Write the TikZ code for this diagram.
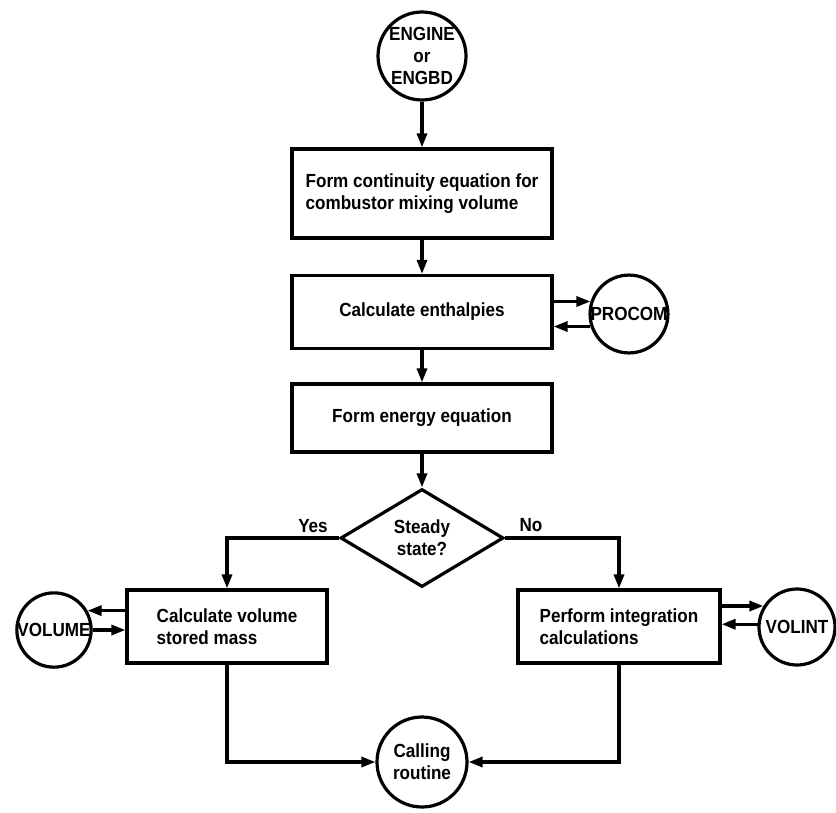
\documentclass[tikz,border=0pt]{standalone}
\usepackage{fontspec}
\setmainfont{Liberation Sans}[FakeStretch=0.9]
\usetikzlibrary{shapes.geometric,arrows.meta}
\begin{document}
\begin{tikzpicture}[x=1pt,y=-1pt,
  font=\fontsize{19}{22}\selectfont\bfseries,
  line width=3.2pt,
  box/.style={draw,rectangle,inner sep=0pt},
  sub/.style={draw,circle,inner sep=0pt,align=center},
  flow/.style={-{Triangle[length=14pt,width=10pt]}},
]
\useasboundingbox (0,0) rectangle (836,812);

% main column
\node[sub,minimum size=88pt] (eng) at (422,56) {ENGINE\\or\\ENGBD};
\node[box,minimum width=260pt,minimum height=89pt,align=left] (b1) at (422,193.5)
  {Form continuity equation for\\combustor mixing volume};
\node[box,minimum width=260pt,minimum height=73pt] (b2) at (422,312) {Calculate enthalpies};
\node[sub,minimum size=76pt] (pro) at (629,314) {PROCOM};
\node[box,minimum width=260pt,minimum height=68pt] (b3) at (422,418) {Form energy equation};
\node[draw,diamond,shape aspect=1.66,minimum width=163pt,minimum height=98pt,
  inner sep=0pt,align=center] (dec) at (422,538) {Steady\\state?};

% branches
\node[box,minimum width=200pt,minimum height=73pt,align=left] (lb) at (227,626.5)
  {Calculate volume\\stored mass};
\node[box,minimum width=202pt,minimum height=73pt,align=left] (rb) at (619,626.5)
  {Perform integration\\calculations};
\node[sub,minimum size=74pt] (vol) at (54,630) {VOLUME};
\node[sub,minimum size=76pt] (vint) at (797,627) {VOLINT};
\node[sub,minimum size=90pt] (call) at (422,762) {Calling\\routine};

\node (yes) at (313,526) {Yes};
\node (no) at (531,525) {No};

% connectors
\draw[flow] (eng) -- (b1);
\draw[flow] (b1) -- (b2);
\draw[flow] (b2) -- (b3);
\draw[flow] (b3) -- (dec);
\draw[flow] (dec.west) -| (lb.north);
\draw[flow] (dec.east) -| (rb.north);
\draw[flow] (lb.south) |- (call.west);
\draw[flow] (rb.south) |- (call.east);

% calls to subroutines and returns
\draw[flow] (pro.162 -| b2.east) -- (pro.162);
\draw[flow] (pro.198) -- (pro.198 -| b2.east);
\draw[flow] (vol.30 -| lb.west) -- (vol.30);
\draw[flow] (vol.0) -- (vol.0 -| lb.west);
\draw[flow] (vint.148 -| rb.east) -- (vint.148);
\draw[flow] (vint.176) -- (vint.176 -| rb.east);
\end{tikzpicture}
\end{document}
